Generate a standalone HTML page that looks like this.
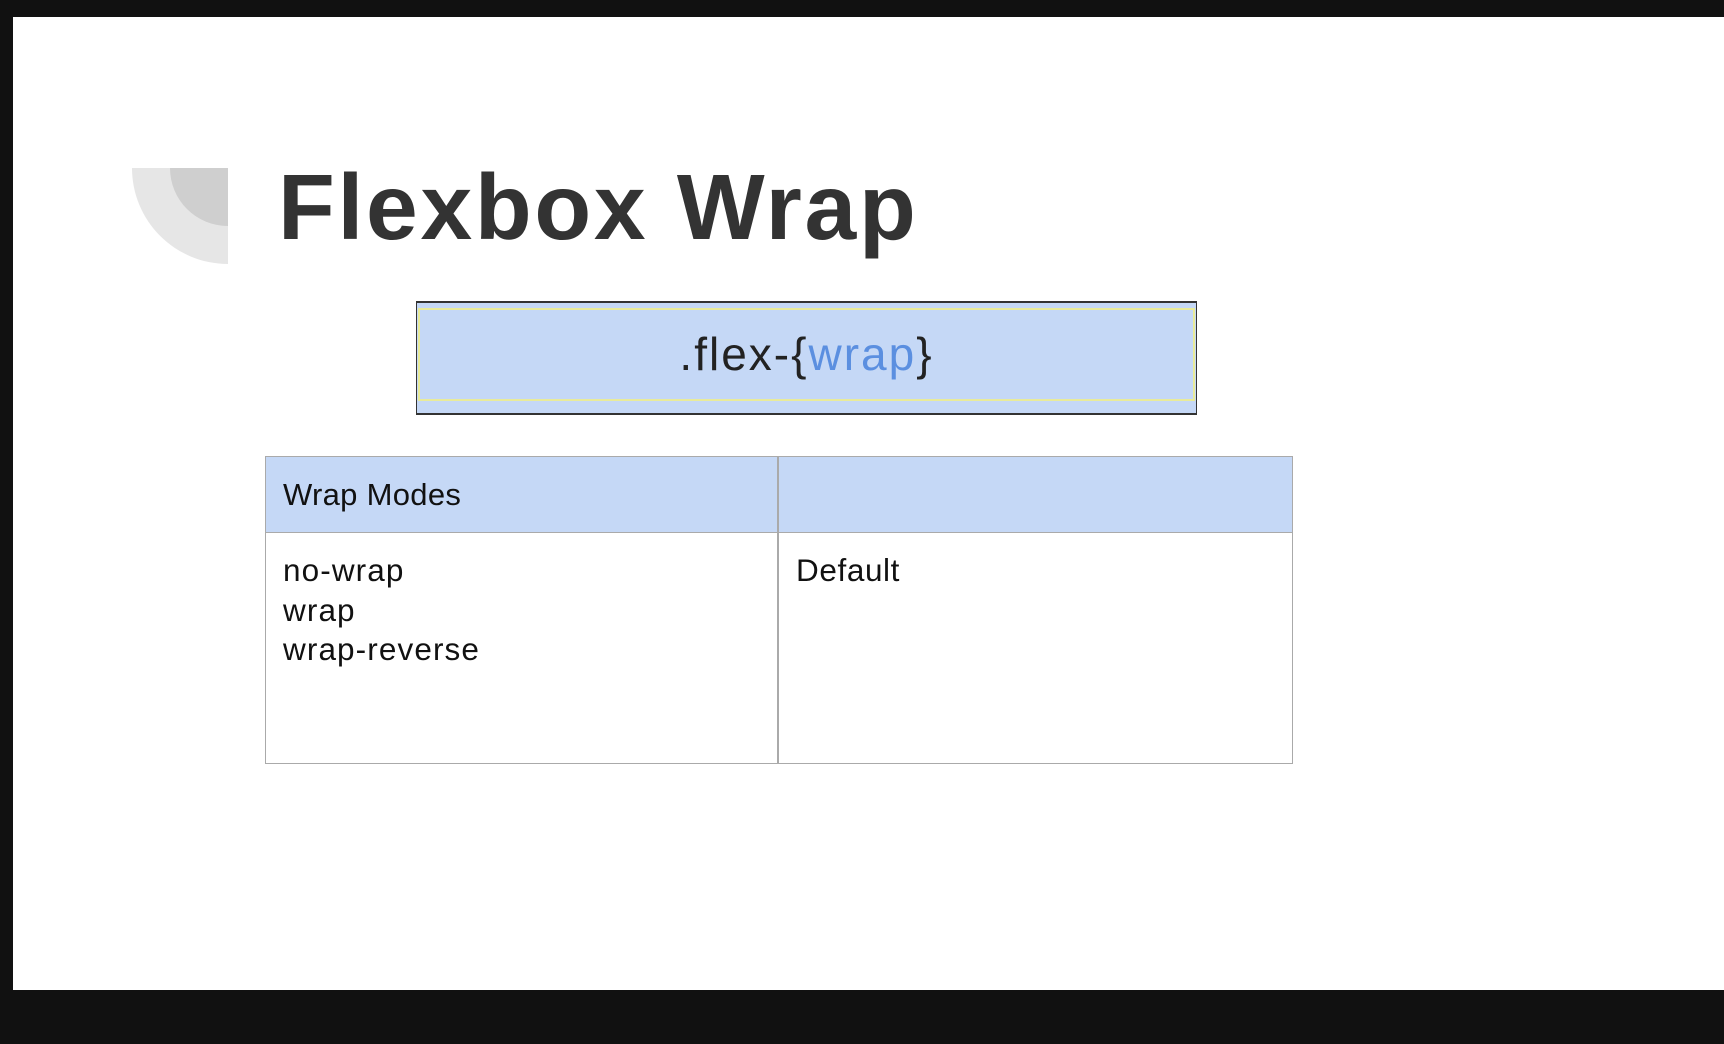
<!DOCTYPE html>
<html><head><meta charset="utf-8"><style>
body{margin:0;width:1724px;height:1044px;background:#fff;position:relative;overflow:hidden;font-family:"Liberation Sans",sans-serif}
.a{position:absolute}
</style></head><body>
<div class="a" style="left:0;top:0;width:1724px;height:17px;background:#111"></div>
<div class="a" style="left:0;top:0;width:13px;height:1044px;background:#111"></div>
<div class="a" style="left:0;top:990px;width:1724px;height:54px;background:#111"></div>
<svg class="a" style="left:132px;top:168px" width="96" height="96">
<path d="M0 0 H96 V96 A96 96 0 0 1 0 0Z" fill="#e6e6e6"/>
<path d="M38 0 H96 V58 A58 58 0 0 1 38 0Z" fill="#cfcfcf"/>
</svg>
<div class="a" style="left:278px;top:152px;font-size:93px;font-weight:bold;color:#333;line-height:110px;letter-spacing:2.7px">Flexbox Wrap</div>
<div class="a" style="left:416px;top:301px;width:779px;height:110px;background:#c5d8f6;border:1px solid #333;border-width:2px 1px 2px 1px"></div>
<div class="a" style="left:418px;top:308px;width:777px;height:93px;border:2px solid #e9eb9a;box-sizing:border-box"></div>
<div class="a" style="left:416px;top:326px;width:781px;text-align:center;font-size:46px;line-height:56px;color:#222;letter-spacing:2px">.flex-{<span style="color:#5b8fe0">wrap</span>}</div>
<div class="a" style="left:265px;top:456px;width:1026px;height:306px;border:1px solid #aaa"></div>
<div class="a" style="left:266px;top:457px;width:1026px;height:75px;background:#c5d8f6;border-bottom:1px solid #aaa"></div>
<div class="a" style="left:777px;top:456px;width:2px;height:307px;background:#aaa"></div>
<div class="a" style="left:283px;top:477px;font-size:31px;color:#111;line-height:36px;letter-spacing:0.3px">Wrap Modes</div>
<div class="a" style="left:283px;top:551px;font-size:31.5px;color:#111;line-height:39.5px;letter-spacing:1.1px">no-wrap<br>wrap<br>wrap-reverse</div>
<div class="a" style="left:796px;top:551px;font-size:31.5px;color:#111;line-height:39.5px;letter-spacing:0.6px">Default</div>
</body></html>
